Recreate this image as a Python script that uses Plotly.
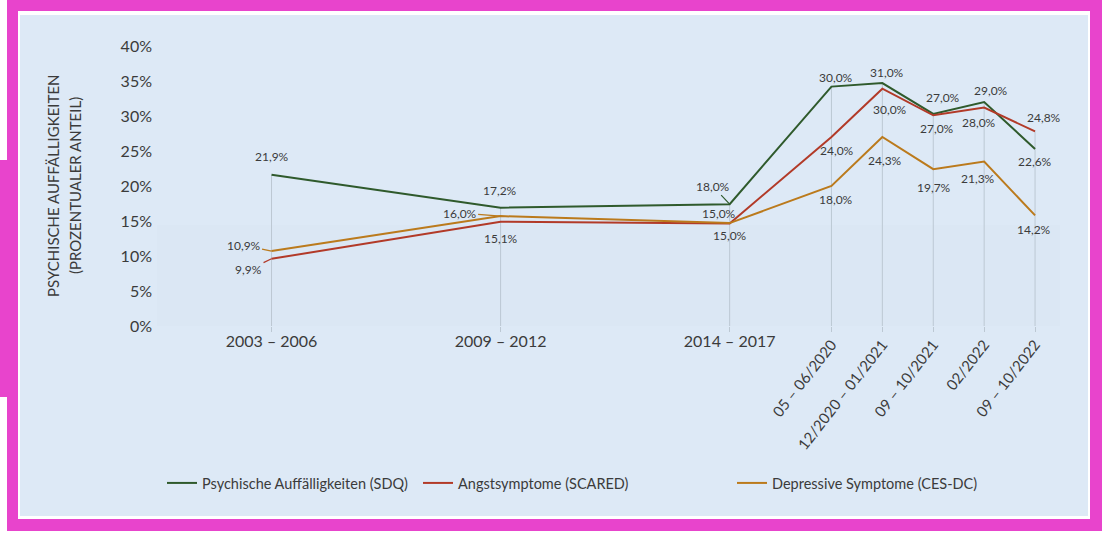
import plotly.graph_objects as go

# ---------------- data ----------------
categories = ["2003 – 2006", "2009 – 2012", "2014 – 2017", "05 – 06/2020",
              "12/2020 – 01/2021", "09 – 10/2021", "02/2022", "09 – 10/2022"]
slots = [0, 4.5, 9, 11, 12, 13, 14, 15]   # category positions on the x axis

sdq = [21.6, 16.9, 17.4, 34.2, 34.7, 30.3, 32.0, 25.3]
scared = [9.6, 14.9, 14.65, 27.0, 33.9, 30.1, 31.2, 27.8]
cesdc = [10.7, 15.7, 14.7, 20.0, 27.0, 22.4, 23.5, 15.8]

sdq_labels = ["21,9%", "17,2%", "18,0%", "30,0%", "31,0%", "27,0%", "29,0%", "22,6%"]
scared_labels = ["9,9%", "15,1%", "15,0%", "24,0%", "30,0%", "27,0%", "28,0%", "24,8%"]
cesdc_labels = ["10,9%", "16,0%", "15,0%", "18,0%", "24,3%", "19,7%", "21,3%", "14,2%"]

series_names = ["Psychische Auffälligkeiten (SDQ)", "Angstsymptome (SCARED)",
                "Depressive Symptome (CES-DC)"]
y_ticks = [0, 5, 10, 15, 20, 25, 30, 35, 40]
y_ticktext = ["0%", "5%", "10%", "15%", "20%", "25%", "30%", "35%", "40%"]
y_title = ["PSYCHISCHE AUFFÄLLIGKEITEN", "(PROZENTUALER ANTEIL)"]

# ---------------- style ----------------
W, H = 1102, 533
ML, MR, MT, MB = 157, 42, 46, 207
PW, PH = W - ML - MR, H - MT - MB
FONT = "Lato"
TXT = "#3b3b3b"
colors = ["#2f5a2c", "#b23a28", "#bb7a1c"]
PINK = "#e844cc"
BG = "#dde9f6"

# label offsets in screen px (dx right, dy down, leader line?)
sdq_off = [(0, -18, 0), (-1, -17, 0), (-17, -18, 1), (5, -9, 0), (5, -11, 0), (10, -16, 0), (7, -12, 0), (0, 13, 0)]
scared_off = [(-23, 11, 1), (0, 17, 0), (0, 12, 0), (6, 13, 0), (8, 21, 0), (4, 13, 0), (-5, 15, 0), (9, -14, 0)]
cesdc_off = [(-28, -6, 1), (-41, -3, 1), (-11, -10, 0), (5, 13, 0), (3, 23, 0), (1, 18, 0), (-6, 17, 0), (-1, 14, 0)]


def px(x):
    return (x - ML) / PW


def py(y):
    return (H - MB - y) / PH


fig = go.Figure()

# drop lines from the highest value down to the axis
dx, dy = [], []
for i, s in enumerate(slots):
    dx += [s, s, None]
    dy += [0, max(sdq[i], scared[i], cesdc[i]), None]
fig.add_trace(go.Scatter(x=dx, y=dy, mode="lines", line=dict(color="#bcc8d3", width=1),
                         hoverinfo="skip", showlegend=False))

all_series = [sdq, scared, cesdc]
all_labels = [sdq_labels, scared_labels, cesdc_labels]
all_off = [sdq_off, scared_off, cesdc_off]
legend_ids = ["legend", "legend2", "legend3"]

for k in range(3):
    fig.add_trace(go.Scatter(x=slots, y=all_series[k], mode="lines", name=series_names[k],
                             line=dict(color=colors[k], width=2), legend=legend_ids[k]))

# overlay axis trace for rotated ticks (invisible)
fig.add_trace(go.Scatter(x=slots[3:], y=[None] * 5, xaxis="x2", showlegend=False,
                         hoverinfo="skip", mode="lines"))

annotations = []
for k in range(3):
    for i, s in enumerate(slots):
        ox, oy, lead = all_off[k][i]
        a = dict(x=s, y=all_series[k][i], xref="x", yref="y", text=all_labels[k][i],
                 font=dict(family=FONT, size=12, color=TXT))
        if lead:
            a.update(showarrow=True, ax=ox, ay=oy, arrowhead=0, arrowwidth=1.2,
                     arrowcolor=colors[k], standoff=0, startstandoff=0)
        else:
            a.update(showarrow=False, xshift=ox, yshift=-oy)
        annotations.append(a)

for line_text, xpos in zip(y_title, [53, 75]):
    annotations.append(dict(x=px(xpos), y=py(186), xref="paper", yref="paper",
                            xanchor="center", yanchor="middle", text=line_text,
                            textangle=-90, showarrow=False,
                            font=dict(family=FONT, size=15, color=TXT)))

shapes = [
    dict(type="rect", xref="paper", yref="paper", x0=px(7), x1=px(1102), y0=py(531), y1=py(0),
         fillcolor=PINK, line=dict(width=0), layer="below"),
    dict(type="rect", xref="paper", yref="paper", x0=px(0), x1=px(18), y0=py(397), y1=py(160),
         fillcolor=PINK, line=dict(width=0), layer="below"),
    dict(type="rect", xref="paper", yref="paper", x0=px(18), x1=px(1090), y0=py(519), y1=py(11),
         fillcolor="#ffffff", line=dict(width=0), layer="below"),
    dict(type="rect", xref="paper", yref="paper", x0=px(20), x1=px(1088), y0=py(516), y1=py(15),
         fillcolor=BG, line=dict(width=0), layer="below"),
    dict(type="rect", xref="paper", yref="paper", x0=px(157), x1=px(1060), y0=py(326), y1=py(225),
         fillcolor="rgba(150,158,168,0.02)", line=dict(width=0), layer="below"),
]
for j in range(10):
    top = 225 + j * 10
    shapes.append(dict(type="rect", xref="paper", yref="paper", x0=px(157), x1=px(1060),
                       y0=py(326), y1=py(top), fillcolor="rgba(150,158,168,0.005)",
                       line=dict(width=0), layer="below"))

legend_common = dict(orientation="h", xanchor="left", yanchor="middle", bgcolor="rgba(0,0,0,0)",
                     font=dict(family=FONT, size=14.5, color=TXT), y=py(483))

fig.update_layout(
    width=W, height=H,
    margin=dict(l=ML, r=MR, t=MT, b=MB),
    paper_bgcolor="#ffffff", plot_bgcolor="rgba(0,0,0,0)",
    shapes=shapes, annotations=annotations,
    xaxis=dict(range=[-2.25, 15.49], tickvals=slots[:3], ticktext=categories[:3],
               showgrid=False, zeroline=False, showline=False, ticks="outside", ticklen=5,
               tickcolor="#bcc8d3", tickfont=dict(family=FONT, size=16, color=TXT), tickangle=0,
               ticklabelstandoff=-4),
    xaxis2=dict(range=[-2.25, 15.49], overlaying="x", anchor="y", side="bottom",
                tickvals=slots[3:], ticktext=categories[3:], showgrid=False, zeroline=False,
                showline=False, ticks="outside", ticklen=5, tickcolor="#bcc8d3",
                tickfont=dict(family=FONT, size=15, color=TXT), tickangle=-52,
                ticklabelstandoff=-2),
    yaxis=dict(range=[0, 40], tickvals=y_ticks, ticktext=y_ticktext, showgrid=False,
               zeroline=False, showline=False, tickfont=dict(family=FONT, size=16, color=TXT),
               ticklabelstandoff=4),
    legend=dict(legend_common, x=px(162)),
    legend2=dict(legend_common, x=px(418)),
    legend3=dict(legend_common, x=px(732)),
    hovermode=False,
)

fig.write_html("out.html")
